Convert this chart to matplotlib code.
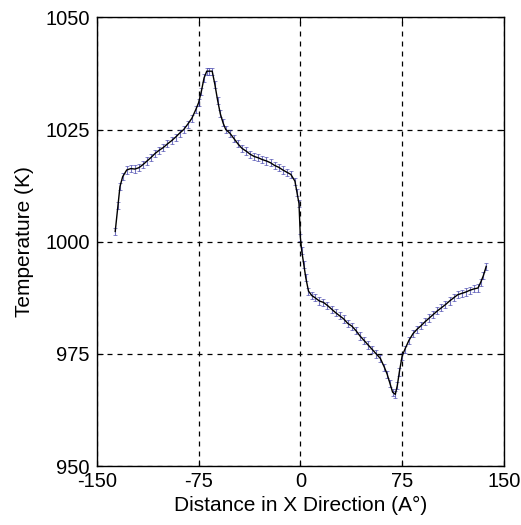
import numpy as np
import matplotlib
matplotlib.use("Agg")
from matplotlib import pyplot as plt

# distance (A) and temperature (K)
dist = [-136.5, -134.5, -133, -131, -128, -125, -122, -119, -116, -113, -110,
        -107, -104, -101, -98, -95, -92, -89, -86, -83, -80, -77, -75, -73,
        -71, -69, -67, -65, -63, -61, -59, -57, -55, -52, -49, -46, -43, -40,
        -37, -34, -31, -28, -25, -22, -19, -16, -13, -10, -7, -4, -2.5, -1,
        0, 1, 2.5, 4, 6, 8.5, 11, 14, 17, 20, 23, 26, 29, 32, 35, 38, 41, 44,
        47, 50, 53, 56, 59, 62, 64, 66, 68, 70, 71.5, 73, 75, 77, 80, 83, 86,
        89, 92, 95, 98, 101, 104, 107, 110, 113, 116, 119, 122, 125, 128, 131,
        133, 135, 137]
temp = [1002.3, 1008, 1012.3, 1014.5, 1016, 1016.3, 1016.2, 1016.5, 1017.2,
        1018, 1018.8, 1019.7, 1020.4, 1021, 1021.8, 1022.5, 1023.3, 1024.2,
        1025, 1026.2, 1027.5, 1029.5, 1031, 1033.5, 1036.5, 1038, 1038, 1038,
        1035, 1031.5, 1028.5, 1026.5, 1025, 1024.2, 1023, 1021.8, 1020.8,
        1020.2, 1019.5, 1019, 1018.7, 1018.3, 1018, 1017.6, 1017, 1016.6,
        1016, 1015.5, 1015, 1013.5, 1011, 1008.5, 1001, 998, 995, 992, 989,
        988, 987.5, 986.8, 986.5, 985.8, 985, 984.2, 983.5, 982.8, 981.8,
        981.2, 980.2, 979, 978, 977, 976, 975, 974, 972, 970.5, 968.5, 966.5,
        966, 968, 971, 974.5, 976, 978, 979.5, 980.5, 981.3, 982.2, 983, 983.8,
        984.6, 985.3, 986, 986.8, 987.5, 988.2, 988.5, 988.8, 989.2, 989.5,
        989.7, 991, 992.5, 994.5]
xticks = [-150, -75, 0, 75, 150]
yticks = [950, 975, 1000, 1025, 1050]

plt.rcParams['font.family'] = ['Liberation Sans', 'DejaVu Sans']
plt.rcParams['axes.unicode_minus'] = False
fig = plt.figure(figsize=(5.21, 5.25), dpi=100)
ax = fig.add_axes([0.186, 0.112, 0.781, 0.855])

d = np.array(dist)
t = np.array(temp)
# small blue error bars along the curve
err = np.full(len(t), 0.8)
ax.errorbar(d, t, yerr=err, fmt='none', ecolor='#3a3aa8', elinewidth=0.8,
            capsize=1.5, capthick=0.6, alpha=0.7, zorder=2)
ax.plot(d, t, color='black', lw=1.0, zorder=3)

ax.set_xlim(-150, 150)
ax.set_ylim(950, 1050)
ax.set_xticks(xticks)
ax.set_yticks(yticks)
ax.grid(True, color='black', linestyle=(0, (4, 4)), linewidth=0.9)
ax.tick_params(direction='in', labelsize=14.5, length=4, top=True, right=True)
ax.tick_params(axis='y', pad=5)
ax.tick_params(axis='x', pad=4)
for s in ax.spines.values():
    s.set_linewidth(1.0)
ax.set_xlabel('Distance in X Direction (A°)', fontsize=15, labelpad=4)
ax.set_ylabel('Temperature (K)', fontsize=15, labelpad=8)

fig.savefig('out.png', dpi=100)
